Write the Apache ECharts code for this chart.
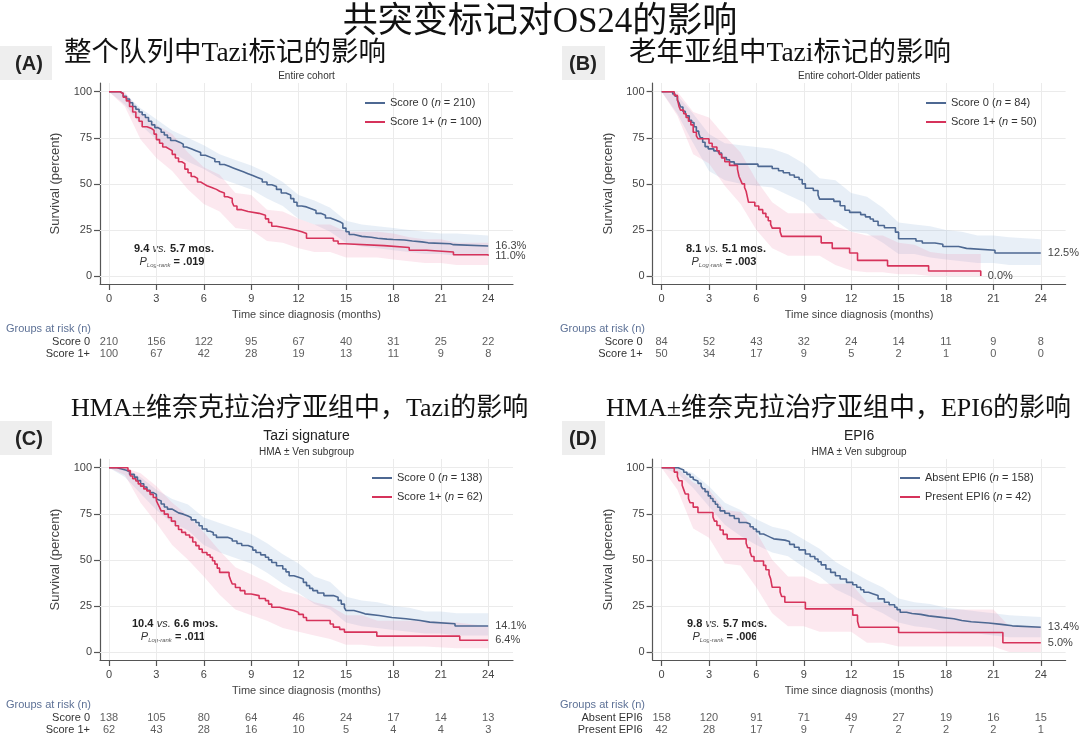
<!DOCTYPE html>
<html><head><meta charset="utf-8">
<script src="https://cdn.jsdelivr.net/npm/echarts@6/dist/echarts.min.js"></script>
<style>html,body{margin:0;padding:0;background:#fff}#c{width:1080px;height:737px}</style>
</head><body><div id="c"></div><script>
// ---------- data ----------
const months = [0, 3, 6, 9, 12, 15, 18, 21, 24];
const survTicks = [0, 25, 50, 75, 100];

const mainTitle = '共突变标记对OS24的影响';
const zhTitles = ['整个队列中Tazi标记的影响', '老年亚组中Tazi标记的影响', 'HMA±维奈克拉治疗亚组中，Tazi的影响', 'HMA±维奈克拉治疗亚组中，EPI6的影响'];
const panelTags = ['(A)', '(B)', '(C)', '(D)'];
const headTitles = ['', '', 'Tazi signature', 'EPI6'];
const subTitles = ['Entire cohort', 'Entire cohort-Older patients', 'HMA ± Ven subgroup', 'HMA ± Ven subgroup'];
const groupsTazi = ['Score 0', 'Score 1+'];
const groupsEPI6 = ['Absent EPI6', 'Present EPI6'];
const nA = [210, 100], nB = [84, 50], nC = [138, 62], nD = [158, 42];
const medA = ['9.4', '5.7'], medB = ['8.1', '5.1'], medC = ['10.4', '6.6'], medD = ['9.8', '5.7'];
const pA = '.019', pB = '.003', pC = '.011', pD = '.006';

const riskA0 = [210, 156, 122, 95, 67, 40, 31, 25, 22];
const riskA1 = [100, 67, 42, 28, 19, 13, 11, 9, 8];
const riskB0 = [84, 52, 43, 32, 24, 14, 11, 9, 8];
const riskB1 = [50, 34, 17, 9, 5, 2, 1, 0, 0];
const riskC0 = [138, 105, 80, 64, 46, 24, 17, 14, 13];
const riskC1 = [62, 43, 28, 16, 10, 5, 4, 4, 3];
const riskD0 = [158, 120, 91, 71, 49, 27, 19, 16, 15];
const riskD1 = [42, 28, 17, 9, 7, 2, 2, 2, 1];

// Kaplan-Meier steps [month, survival %]
const kmA0 = [[0,100],[0.5,100],[0.7,99],[0.9,97.5],[1.1,96],[1.3,94],[1.5,92],[1.7,90.5],[1.9,89],[2.1,87.5],[2.3,86],[2.5,84],[2.7,82],[2.9,80.5],[3.1,79.5],[3.3,78],[3.5,76.5],[3.7,75],[3.9,73.5],[4.2,72.5],[4.5,71.5],[4.7,70],[4.9,69],[5.2,68],[5.5,67],[5.8,65.5],[6.1,64.5],[6.4,63.5],[6.7,62],[7.0,60.5],[7.3,59.5],[7.6,58.5],[7.9,57.5],[8.2,56.5],[8.5,55.5],[8.8,54.5],[9.1,53.5],[9.4,52.5],[9.7,51],[10.0,49.5],[10.3,48.5],[10.6,47],[10.9,45],[11.2,44],[11.5,42],[11.7,40],[11.9,38],[12.2,37.5],[12.5,36.5],[12.8,35.5],[13.1,34],[13.4,33],[13.7,31.5],[14.0,30.5],[14.3,29.5],[14.6,28.5],[14.8,26],[15.0,24],[15.2,22.5],[15.5,21.5],[16.0,21],[16.6,20.5],[17.0,20],[17.6,19.8],[18.0,19.5],[18.7,19],[19.2,18.5],[19.8,18],[20.2,17.5],[21.6,17],[21.8,16.3],[24,16.3]];
const kmA1 = [[0,100],[0.5,100],[0.7,99],[0.9,97],[1.1,95],[1.3,92],[1.5,89],[1.7,86],[1.9,84],[2.1,81],[2.4,80],[2.7,79],[2.85,77],[3.0,74],[3.2,72],[3.4,70],[3.6,69],[3.8,68],[4.0,66],[4.2,64],[4.4,62],[4.6,61],[4.8,58],[5.0,56],[5.2,54],[5.4,53],[5.6,51],[5.8,50],[6.0,49],[6.2,48],[6.5,47],[6.8,46],[7.0,45],[7.3,43],[7.5,42],[7.8,40],[7.9,38],[8.1,36],[8.4,35],[8.8,34],[9.5,33],[9.9,31],[10.1,29],[10.3,27],[10.6,26],[11.2,25],[11.8,24],[12.2,23],[12.5,20.5],[14.2,19],[14.5,17.5],[14.9,16.5],[17.4,15.5],[19.0,14],[20.1,13],[21.8,11.5],[24,11]];
const kmB0 = [[0,100],[0.55,100],[0.7,98.8],[0.85,97.6],[1.0,95.2],[1.1,94],[1.2,91.7],[1.35,89.3],[1.5,88.1],[1.6,86.9],[1.75,84.5],[1.9,83.3],[2.05,81],[2.2,78.6],[2.35,77.4],[2.45,75],[2.6,72.6],[2.75,70.2],[2.95,69],[3.3,67.9],[3.6,66.7],[3.8,64.3],[4.1,63.1],[4.3,61.9],[4.6,60.7],[6.1,59.5],[7.0,58.3],[7.4,57.1],[7.7,56],[8.1,54.8],[8.4,53.6],[8.7,52.4],[8.9,50],[9.1,47.6],[9.6,46.4],[9.9,44],[10.0,41.7],[10.9,40.5],[11.3,38.1],[11.6,35.7],[11.9,34.5],[12.6,33.3],[12.9,32.1],[13.2,30.9],[13.4,29.7],[13.7,27.4],[14.1,26.2],[14.8,23.8],[15.0,20.2],[16.1,19],[16.5,17.9],[17.3,17.2],[17.8,16],[18.8,15],[19.3,14],[21.1,12.5],[24,12.5]];
const kmB1 = [[0,100],[0.6,100],[0.8,98],[1.0,96],[1.1,92],[1.2,90],[1.4,88],[1.55,86],[1.7,84],[1.85,82],[2.0,78],[2.2,76],[2.3,74.5],[3.0,72],[3.2,70],[3.5,68],[3.65,66],[3.8,64],[4.0,62],[4.3,60],[4.8,58],[4.9,54],[5.0,52],[5.1,50],[5.25,48],[5.35,46],[5.45,42],[5.5,40],[5.9,38],[6.15,36],[6.4,34],[6.6,32],[6.75,30],[6.9,28],[7.0,26],[7.5,24],[7.6,21.5],[10.1,18],[10.8,15],[11.9,12.5],[12.4,8.5],[14.3,5.5],[16.9,2.7],[20.2,0]];
const kmC0 = [[0,100],[0.3,100],[0.5,99.3],[0.8,98.6],[1.1,97.8],[1.3,96.4],[1.6,94.9],[1.8,93],[2.0,91.3],[2.2,89.5],[2.4,87.7],[2.6,86.5],[2.8,85.5],[3.0,83],[3.1,82],[3.3,80.3],[3.5,78.7],[3.7,77.5],[4.0,76.5],[4.2,75.5],[4.4,74.8],[4.7,73.8],[5.0,73],[5.2,71.7],[5.5,70.3],[5.7,68.5],[5.9,66.7],[6.2,65.5],[6.4,64.9],[6.6,63.5],[6.8,62.2],[7.5,61.3],[7.8,60.2],[8.1,58.9],[8.4,57.8],[8.8,56.8],[9.1,55.3],[9.3,54],[9.6,52.7],[9.9,51.4],[10.1,50],[10.3,48.6],[10.6,46.8],[11.0,45],[11.2,43.5],[11.4,41.4],[11.7,40.5],[12.0,39.6],[12.3,37.8],[12.5,36],[12.7,34.5],[12.9,33.3],[13.2,32],[13.6,30.6],[14.2,29.7],[14.5,28],[14.7,26],[14.9,24],[15.0,22.5],[15.5,21.6],[15.9,20.7],[16.2,19.8],[17.1,19.3],[17.5,18.7],[17.9,18],[18.8,17.1],[19.7,16.2],[20.3,15.3],[21.9,14.1],[24,14.1]];
const kmC1 = [[0,100],[1.0,100],[1.2,98.4],[1.35,95.5],[1.5,94],[1.7,92.8],[1.85,91.2],[2.0,90],[2.2,88.5],[2.4,87.4],[2.6,85.5],[2.8,83.8],[3.0,82],[3.1,80.2],[3.2,78.5],[3.3,76.6],[3.5,74.8],[3.75,73],[3.95,71],[4.2,68.5],[4.4,66.5],[4.6,64.9],[4.85,63.5],[5.1,62.2],[5.3,59.7],[5.5,57.7],[5.7,55.8],[5.9,54],[6.2,52.7],[6.4,51.4],[6.55,49.5],[6.7,47.7],[6.85,45.5],[7.0,43.2],[7.6,41.4],[7.7,39],[7.8,36.9],[8.0,35],[8.3,33.3],[8.6,31.5],[9.0,30.6],[9.5,29],[9.9,27.9],[10.1,26],[10.3,24.3],[10.8,23.4],[11.2,22.5],[11.7,21.5],[12.0,20.4],[12.3,18.7],[12.5,17.1],[14.0,15.2],[14.2,13.5],[14.6,12.3],[14.9,10.8],[16.95,8.6],[22.2,6.4],[24,6.4]];
const kmD0 = [[0,100],[0.9,100],[1.05,99.4],[1.2,98.7],[1.4,97.5],[1.6,96.4],[1.8,94.9],[2.0,93.7],[2.1,92.8],[2.3,91.5],[2.5,90],[2.6,88.6],[2.75,87],[2.95,84.7],[3.1,83.3],[3.25,81.7],[3.4,80.2],[3.55,78.5],[3.7,76.6],[4.0,75.3],[4.3,73.9],[4.6,72.4],[4.9,70.3],[5.35,69.4],[5.6,68],[5.8,66.7],[6.0,65.3],[6.2,64],[6.45,63],[6.7,62.2],[6.9,61.4],[7.1,60.7],[7.8,60],[8.1,58.4],[8.4,56.8],[8.7,55.4],[9.1,53.2],[9.4,51.8],[9.7,50.5],[9.9,49],[10.1,47.3],[10.4,45],[10.7,43.2],[11.0,41.4],[11.3,39.6],[11.7,37.8],[12.1,36.5],[12.35,35.1],[12.6,33.8],[12.8,32.4],[13.1,31.5],[13.4,30.6],[13.7,28.8],[14.1,27],[14.4,25.6],[14.75,24.3],[14.9,23],[15.1,21.6],[15.5,20.9],[15.85,20.4],[16.4,19.6],[16.9,18.9],[17.6,18],[18.5,17.1],[19.0,16.4],[19.6,15.7],[20.7,15],[21.5,14.2],[22.2,13.4],[24,13.4]];
const kmD1 = [[0,100],[0.6,100],[0.8,97.6],[1.0,95.2],[1.1,92.9],[1.3,90.5],[1.4,88.1],[1.5,85.7],[1.7,83.3],[1.8,81],[2.0,78.6],[2.3,75.7],[3.25,73.3],[3.35,71],[3.5,68.6],[3.7,66.2],[3.9,63.8],[4.15,61.4],[5.35,59],[5.45,56.6],[5.6,54.2],[5.7,51.8],[5.85,49.4],[6.45,47],[6.6,44.6],[6.8,42.2],[6.9,39.8],[7.0,35.1],[7.5,32.5],[7.6,30.1],[7.8,27],[9.1,23.4],[12.1,20],[12.4,16.7],[12.5,13.4],[15.0,10.6],[21.6,5],[24,5]];

// confidence bands [month, lower, upper]
const ciA0 = [[0,100,100],[1,93,99],[2,82,91],[3,74,85],[4,67,79],[5,62,75],[6,58,71],[7,53,66],[8,50,63],[9,47,60],[10,42,56],[11,38,51],[12,31,44],[13,28,41],[14,24,37],[15,18,30],[16,16,28],[17,15,27],[18,14,26],[19,13,25],[20,12,24],[21,12,23],[22,11,23],[24,11,22]];
const ciA1 = [[0,100,100],[1,92,100],[2,74,89],[3,64,82],[4,57,77],[5,47,67],[6,39,59],[7,35,55],[8,26,45],[9,25,44],[10,19,36],[11,18,35],[12,15,31],[13,13,28],[14,13,28],[15,10,24],[16,10,24],[17,10,24],[18,9,23],[19,8,21],[20,7,20],[21,7,20],[22,6,18],[24,6,18]];
const ciB0 = [[0,100,100],[1,88,98],[2,72,88],[3,57,77],[4,52,72],[5,50,71],[6,49,70],[7,48,69],[8,44,66],[9,40,61],[10,31,53],[11,30,52],[12,24,45],[13,23,43],[14,18,37],[15,12,29],[16,12,28],[17,10,27],[18,9,25],[19,8,24],[20,7,22],[21,7,22],[22,6,21],[24,6,20]];
const ciB1 = [[0,100,100],[1,87,100],[2,66,89],[3,61,86],[4,49,76],[5,39,67],[6,25,52],[7,15,40],[8,11,34],[9,11,34],[10,11,34],[11,6,27],[12,3,24],[13,2,22],[14,2,22],[15,1,18],[16,1,17],[17,0,13],[18,0,12],[19,0,12],[20.2,0,12]];
const ciC0 = [[0,100,100],[1,95,99.5],[2,86,95],[3,77,88],[4,70,83],[5,66,80],[6,58,73],[7,54,70],[8,51,67],[9,48,64],[10,43,59],[11,37,53],[12,32,48],[13,26,41],[14,23,38],[15,16,30],[16,14,28],[17,13,27],[18,12,25],[19,11,24],[20,10,22],[21,10,22],[22,9,21],[24,9,21]];
const ciC1 = [[0,100,100],[1,96,100],[2,81,97],[3,70,90],[4,58,81],[5,50,74],[6,41,65],[7,31,55],[8,23,46],[9,20,42],[10,17,38],[11,13,33],[12,11,31],[13,9,27],[14,7,25],[15,4,20],[16,4,20],[17,3,17],[18,3,17],[20,3,17],[22,2,16],[24,2,14]];
const ciD0 = [[0,100,100],[1,97,100],[2,89,97],[3,79,90],[4,69,81],[5,63,77],[6,58,72],[7,54,68],[8,52,66],[9,46,61],[10,41,56],[11,34,49],[12,30,44],[13,25,39],[14,21,35],[15,16,29],[16,14,27],[17,13,26],[18,11,24],[19,10,23],[20,10,22],[21,9,21],[22,8,20],[24,8,19]];
const ciD1 = [[0,100,100],[1,88,100],[2,67,92],[3,62,88],[4,48,77],[5,47,76],[6,35,65],[7,21,50],[8,14,41],[9,14,41],[10,11,37],[11,11,37],[12,11,37],[13,5,27],[14,5,27],[15,3,23],[18,3,23],[21,3,23],[22,0,14],[24,0,14]];

// ---------- layout / style ----------
const FONT = '"Liberation Sans", Arial, sans-serif';
const ZH = '"Liberation Serif", "Noto Sans CJK SC", serif';
const BLUE = '#4d6892', RED = '#d6335b';
const BAND_BLUE = 'rgba(150,180,220,0.22)', BAND_RED = 'rgba(240,140,175,0.20)';
const GW = 413, GH = 201, XMIN = -0.57, XMAX = 25.57, YMIN = -4.34, YMAX = 104.72;

const panels = [
  {left: 100, top: 83, km: [kmA0, kmA1], ci: [ciA0, ciA1], risk: [riskA0, riskA1], groups: groupsTazi, n: nA, med: medA, p: pA, legend: [365, 97.5], ann: [174, 249]},
  {left: 652.6, top: 83, km: [kmB0, kmB1], ci: [ciB0, ciB1], risk: [riskB0, riskB1], groups: groupsTazi, n: nB, med: medB, p: pB, legend: [926, 97.5], ann: [726, 249]},
  {left: 100, top: 459, km: [kmC0, kmC1], ci: [ciC0, ciC1], risk: [riskC0, riskC1], groups: groupsTazi, n: nC, med: medC, p: pC, legend: [372, 472.5], ann: [175, 624]},
  {left: 652.6, top: 459, km: [kmD0, kmD1], ci: [ciD0, ciD1], risk: [riskD0, riskD1], groups: groupsEPI6, n: nD, med: medD, p: pD, legend: [900, 472.5], ann: [727, 624]}
];

const grid = [], xAxis = [], yAxis = [], series = [], legend = [], graphic = [];
const legendText = {};

panels.forEach((P, i) => {
  const mi = 2 * i, ri = 2 * i + 1;
  grid.push({left: P.left, top: P.top, width: GW, height: GH});
  grid.push({left: P.left, top: P.top + GH + 52, width: GW, height: 24});
  xAxis.push({gridIndex: mi, type: 'value', min: XMIN, max: XMAX,
    axisLine: {onZero: false, lineStyle: {color: '#555', width: 1.2}},
    axisTick: {customValues: months, length: 6, lineStyle: {color: '#555', width: 1.2}},
    axisLabel: {customValues: months, margin: 9, color: '#444', fontSize: 11, fontFamily: FONT},
    splitLine: {show: false},
    name: 'Time since diagnosis (months)', nameLocation: 'middle', nameGap: 25,
    nameTextStyle: {fontSize: 11, color: '#444', fontFamily: FONT}});
  xAxis.push({gridIndex: ri, type: 'value', min: XMIN, max: XMAX, show: false});
  yAxis.push({gridIndex: mi, type: 'value', min: YMIN, max: YMAX,
    axisLine: {show: true, onZero: false, lineStyle: {color: '#555', width: 1.2}},
    axisTick: {show: true, customValues: survTicks, length: 6, lineStyle: {color: '#555', width: 1.2}},
    axisLabel: {customValues: survTicks, margin: 8, color: '#444', fontSize: 11, fontFamily: FONT},
    splitLine: {show: false},
    name: 'Survival (percent)', nameLocation: 'middle', nameGap: 38,
    nameTextStyle: {fontSize: 13, color: '#444', fontFamily: FONT}});
  yAxis.push({gridIndex: ri, type: 'category', data: P.groups, inverse: true,
    axisLine: {show: false}, axisTick: {show: false}, splitLine: {show: false},
    axisLabel: {interval: 0, fontSize: 11, color: '#333', margin: 10, fontFamily: FONT}});

  // faint grid lines
  series.push({type: 'line', xAxisIndex: mi, yAxisIndex: mi, data: [], silent: true, z: 1,
    markLine: {silent: true, z: 1, symbol: 'none', label: {show: false}, animation: false,
      lineStyle: {color: '#ebebeb', width: 1, type: 'solid'},
      data: months.map(v => ({xAxis: v})).concat(survTicks.map(v => ({yAxis: v})))}});

  // confidence bands
  [0, 1].forEach(k => {
    const band = P.ci[k];
    series.push({type: 'custom', xAxisIndex: mi, yAxisIndex: mi, silent: true, z: 2, data: [[0, 0]],
      renderItem: (params, api) => {
        const up = band.map(d => api.coord([d[0], d[2]]));
        const lo = band.slice().reverse().map(d => api.coord([d[0], d[1]]));
        return {type: 'polygon', shape: {points: up.concat(lo)}, style: {fill: k === 0 ? BAND_BLUE : BAND_RED}};
      }});
  });

  // KM curves
  const names = [];
  [0, 1].forEach(k => {
    const nm = 'P' + i + 'G' + k;
    names.push(nm);
    legendText[nm] = P.groups[k] + ' ({n|n} = ' + P.n[k] + ')';
    series.push({type: 'line', name: nm, xAxisIndex: mi, yAxisIndex: mi, step: 'end', symbol: 'none', z: 3,
      data: P.km[k], color: k === 0 ? BLUE : RED,
      lineStyle: {width: 1.6, color: k === 0 ? BLUE : RED},
      endLabel: {show: true, distance: 7, formatter: p => p.value[1].toFixed(1) + '%',
        fontSize: 11, color: '#444', fontFamily: FONT}});
  });

  legend.push({data: names, left: P.legend[0], top: P.legend[1], orient: 'vertical', padding: 0,
    icon: 'rect', itemWidth: 20, itemHeight: 2, itemGap: 8, selectedMode: false,
    formatter: nm => legendText[nm],
    textStyle: {fontSize: 11, color: '#333', fontFamily: FONT,
      rich: {n: {fontStyle: 'italic', fontSize: 11, color: '#333', fontFamily: FONT}}}});

  // risk table numbers
  const rdata = [];
  [0, 1].forEach(k => months.forEach((m, j) => rdata.push([m, k, P.risk[k][j]])));
  series.push({type: 'scatter', xAxisIndex: ri, yAxisIndex: ri, data: rdata, symbolSize: 1, silent: true,
    itemStyle: {color: 'rgba(0,0,0,0)'},
    label: {show: true, position: 'inside', formatter: p => p.value[2], fontSize: 11, color: '#333', fontFamily: FONT}});

  // panel text
  const rowL = i % 2 === 0 ? 6 : 560;
  graphic.push({type: 'text', x: rowL, y: P.top + GH + 45, style: {text: 'Groups at risk (n)', fill: '#5d7196', fontSize: 11, fontFamily: FONT, textAlign: 'left', textVerticalAlign: 'middle', align: 'left', verticalAlign: 'middle'}});
  graphic.push({type: 'text', x: P.ann[0], y: P.ann[1], style: {
    text: '{b|' + P.med[0] + '} {i|vs.} {b|' + P.med[1] + ' mos.}', textAlign: 'center', textVerticalAlign: 'middle', align: 'center', verticalAlign: 'middle',
    rich: {b: {fontWeight: 'bold', fontSize: 11, fill: '#222', fontFamily: FONT}, i: {fontStyle: 'italic', fontSize: 11, fill: '#333', fontFamily: FONT}}}});
  graphic.push({type: 'text', x: P.ann[0] - 2, y: P.ann[1] + 12.5, style: {
    text: '{p|P}{s|Log-rank}{b| = ' + P.p + '}', textAlign: 'center', textVerticalAlign: 'middle', align: 'center', verticalAlign: 'middle',
    rich: {p: {fontStyle: 'italic', fontSize: 11, fill: '#333', fontFamily: FONT, lineHeight: 14},
      s: {fontStyle: 'italic', fontSize: 6, fill: '#555', fontFamily: FONT, verticalAlign: 'bottom', lineHeight: 14, padding: [6, 0, 0, 0]},
      b: {fontWeight: 'bold', fontSize: 11, fill: '#222', fontFamily: FONT, lineHeight: 14}}}});
});

// titles
graphic.push({type: 'text', x: 540, y: 23, style: {text: mainTitle, fill: '#111', fontSize: 35, fontFamily: ZH, textAlign: 'center', textVerticalAlign: 'middle', align: 'center', verticalAlign: 'middle'}});
const zhPos = [[64, 54, 27.5], [629, 54, 27.5], [71, 409, 26], [606, 409, 26]];
const tagPos = [[0, 46, 29], [562, 46, 583], [0, 421, 29], [562, 421, 583]];
zhTitles.forEach((t, i) => {
  graphic.push({type: 'text', x: zhPos[i][0], y: zhPos[i][1], style: {text: t, fill: '#111', fontSize: zhPos[i][2], fontFamily: ZH, textAlign: 'left', textVerticalAlign: 'middle', align: 'left', verticalAlign: 'middle'}});
  graphic.push({type: 'rect', shape: {x: tagPos[i][0], y: tagPos[i][1], width: 43 + (i % 2 === 0 ? 9 : 0), height: 34}, style: {fill: '#eeeeee'}});
  graphic.push({type: 'text', x: tagPos[i][2], y: tagPos[i][1] + 18, style: {text: panelTags[i], fill: '#222', fontSize: 20, fontWeight: 'bold', fontFamily: FONT, textAlign: 'center', textVerticalAlign: 'middle', align: 'center', verticalAlign: 'middle'}});
  const top = i < 2;
  const cx = panels[i].left + GW / 2;
  if (headTitles[i]) graphic.push({type: 'text', x: cx, y: 436, style: {text: headTitles[i], fill: '#222', fontSize: 14, fontFamily: FONT, textAlign: 'center', textVerticalAlign: 'middle', align: 'center', verticalAlign: 'middle'}});
  graphic.push({type: 'text', x: cx, y: top ? 76 : 452, style: {text: subTitles[i], fill: '#333', fontSize: 10, fontFamily: FONT, textAlign: 'center', textVerticalAlign: 'middle', align: 'center', verticalAlign: 'middle'}});
});

const chart = echarts.init(document.getElementById('c'), null, {renderer: 'canvas'});
chart.setOption({animation: false, backgroundColor: '#fff', grid, xAxis, yAxis, series, legend, graphic});
</script></body></html>
